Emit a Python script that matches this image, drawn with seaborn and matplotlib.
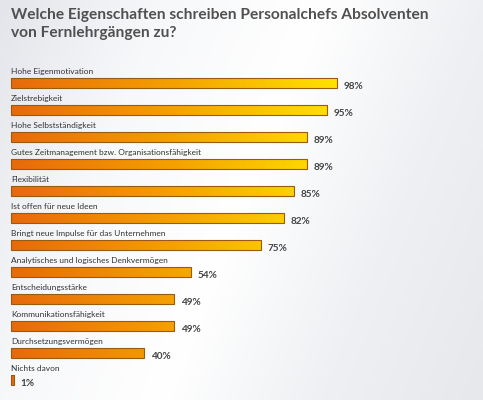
import numpy as np
import pandas as pd
import matplotlib
matplotlib.use("Agg")
import matplotlib.pyplot as plt
import seaborn as sns
from matplotlib.colors import LinearSegmentedColormap


# Chart data
categories = [
    "Hohe Eigenmotivation",
    "Zielstrebigkeit",
    "Hohe Selbstständigkeit",
    "Gutes Zeitmanagement bzw. Organisationsfähigkeit",
    "Flexibilität",
    "Ist offen für neue Ideen",
    "Bringt neue Impulse für das Unternehmen",
    "Analytisches und logisches Denkvermögen",
    "Entscheidungsstärke",
    "Kommunikationsfähigkeit",
    "Durchsetzungsvermögen",
    "Nichts davon",
]
values = [98, 95, 89, 89, 85, 82, 75, 54, 49, 49, 40, 1]
value_labels = [f"{v}%" for v in values]

title = "Welche Eigenschaften schreiben Personalchefs Absolventen\nvon Fernlehrgängen zu?"

df = pd.DataFrame({"Eigenschaft": categories, "Anteil": values})

sns.set_style("white")
plt.rcParams["font.family"] = ["Lato", "DejaVu Sans"]

fig = plt.figure(figsize=(4.83, 4.0), dpi=100)
ax = fig.add_axes([0, 0, 1, 1])

# soft background
bg = LinearSegmentedColormap.from_list("bg", ["#e3e5ea", "#f7f8fa", "#ffffff", "#eef0f3", "#e6e8ec"])
xx, yy = np.meshgrid(np.linspace(0, 1, 200), np.linspace(0, 1, 200))
ax.imshow(0.75 * xx + 0.25 * yy, cmap=bg, extent=(-3.3, 141.7, 11.74, -3.07),
          aspect="auto", zorder=0)

sns.barplot(data=df, x="Anteil", y="Eigenschaft", orient="h", width=0.34,
            color="#f0a000", edgecolor="#9a5a10", linewidth=0.8, ax=ax, zorder=2)

# orange -> yellow gradient along the value axis
grad = LinearSegmentedColormap.from_list("bar", ["#e8690c", "#f5a300", "#ffe600"])
gx = np.linspace(0, 1, 256).reshape(1, -1)
for patch in list(ax.patches):
    patch.set_facecolor("none")
    patch.set_edgecolor("#9a5a10")
    x0, y0 = patch.get_x(), patch.get_y()
    w, h = patch.get_width(), patch.get_height()
    im = ax.imshow(gx, cmap=grad, extent=(0, 100, y0 + h, y0), aspect="auto",
                   zorder=1.5, vmin=0, vmax=1, interpolation="bilinear")
    im.set_clip_path(patch)

for i, (cat, v, lab) in enumerate(zip(categories, values, value_labels)):
    ax.text(0, i - 0.41, cat, ha="left", va="center", fontsize=6.0, color="#333333")
    ax.text(v + 1.9, i + 0.12, lab, ha="left", va="center", fontsize=7.2,
            fontweight="bold", color="#444444")

ax.set_xlim(-3.3, 141.7)
ax.set_ylim(11.74, -3.07)
ax.axis("off")

fig.text(11 / 483, 1 - 8 / 400, title, ha="left", va="top", fontsize=11.2,
         fontweight="bold", color="#505050", linespacing=1.35)

fig.savefig("out.png", dpi=100)
